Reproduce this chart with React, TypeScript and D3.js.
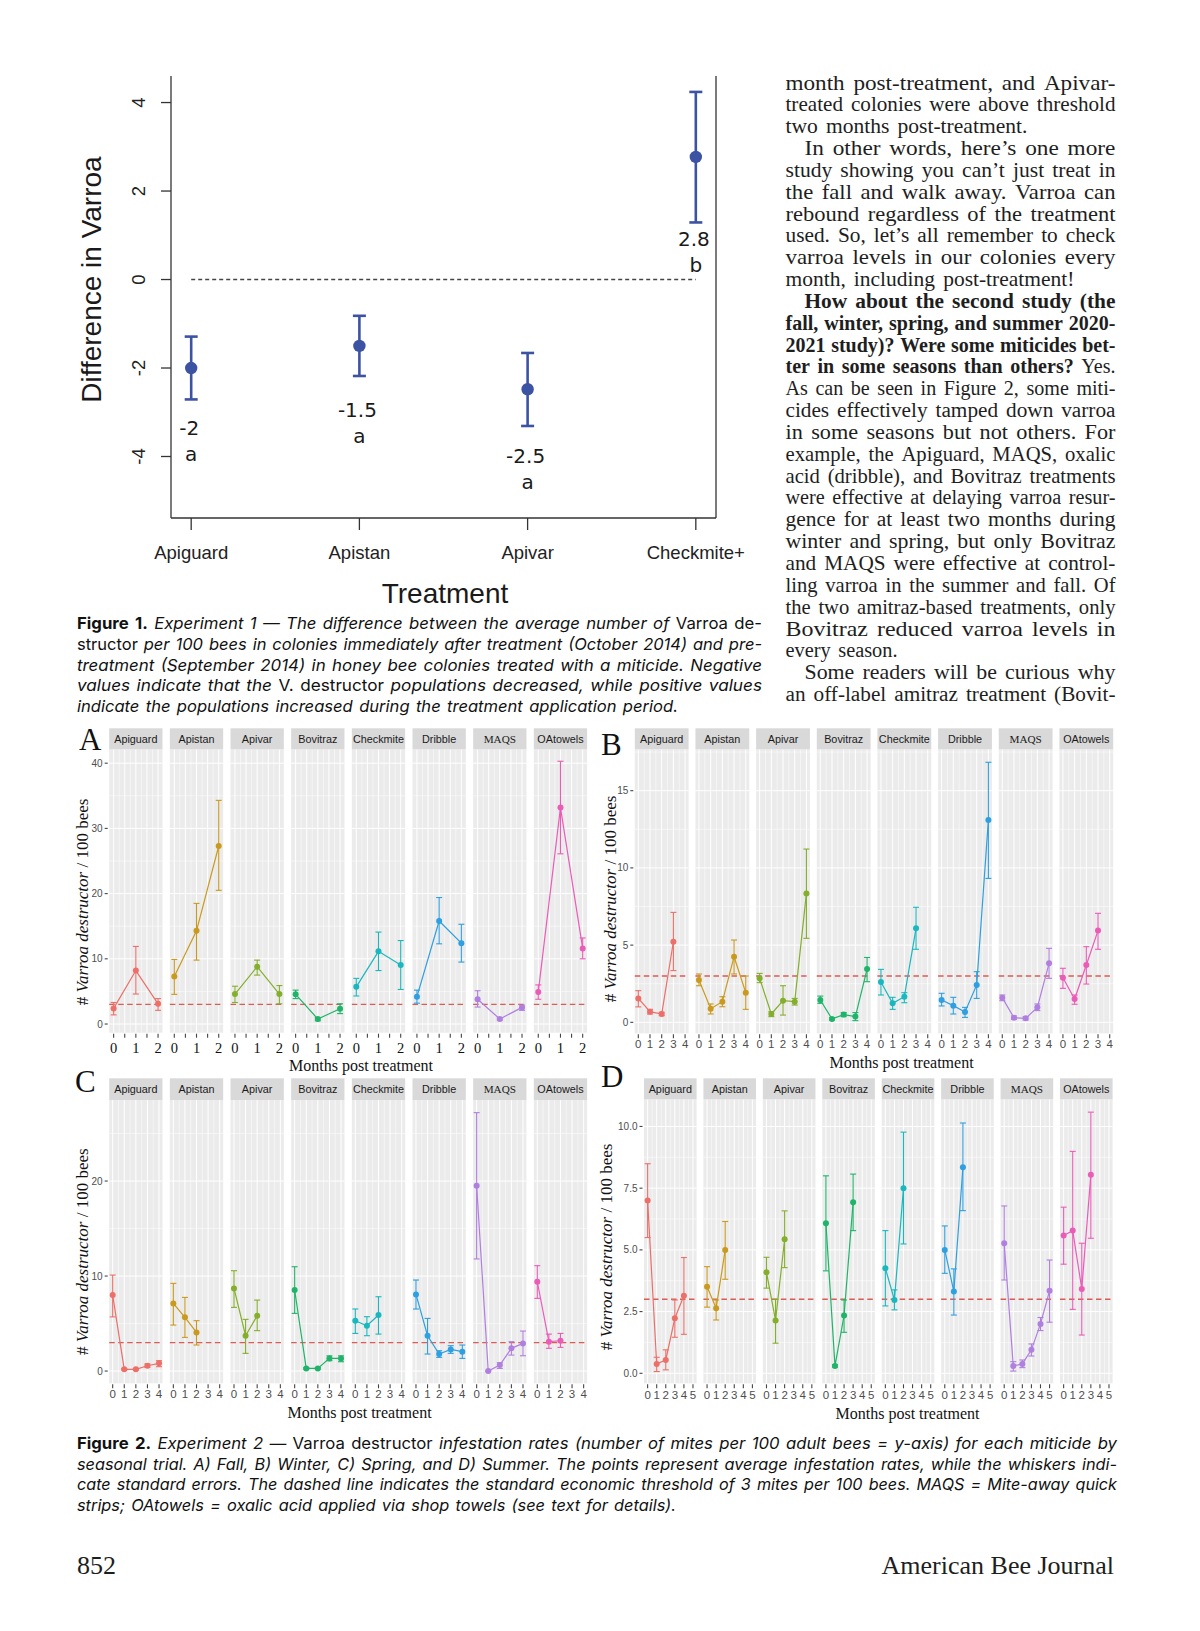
import React from 'react';
import * as d3 from 'd3';

// ---------------- Figure 1 data ----------------
const fig1Treatments = ['Apiguard', 'Apistan', 'Apivar', 'Checkmite+'];
const fig1Means = [-2.0, -1.5, -2.48, 2.77];
const fig1Lower = [-2.71, -2.18, -3.31, 1.29];
const fig1Upper = [-1.29, -0.82, -1.66, 4.24];
const fig1ValueLabels = ['-2', '-1.5', '-2.5', '2.8'];
const fig1GroupLabels = ['a', 'a', 'a', 'b'];
const fig1LabelAt = [-3.52, -3.11, -4.14, 0.75];
const fig1YTicks = [-4, -2, 0, 2, 4];

// ---------------- Figure 2 data ----------------
const treatments = ['Apiguard', 'Apistan', 'Apivar', 'Bovitraz', 'Checkmite', 'Dribble', 'MAQS', 'OAtowels'];
const treatmentColors = ['#EC6F69', '#C99A1E', '#84AE2C', '#20B46A', '#19B8BF', '#2E9FE0', '#B07FDF', '#EA5CB8'];
const threshold = 3;

// A) Fall: months 0..2
const fallMean = [[2.4, 8.2, 3.1], [7.3, 14.3, 27.3], [4.6, 8.8, 4.6], [4.55, 0.77, 2.35], [5.7, 11.15, 9.05], [4.2, 15.8, 12.4], [3.8, 0.77, 2.55], [4.9, 33.2, 11.6]];
const fallLow = [[1.4, 4.6, 2.1], [4.55, 9.8, 20.5], [3.3, 7.5, 3.1], [3.9, 0.5, 1.6], [4.3, 8.2, 5.3], [3.2, 12.3, 9.5], [2.6, 0.6, 2.1], [3.8, 26.1, 10.0]];
const fallHigh = [[3.3, 11.9, 3.9], [9.9, 18.5, 34.3], [5.8, 9.8, 5.9], [5.2, 1.0, 3.1], [7.0, 14.1, 12.8], [5.2, 19.4, 15.3], [5.1, 0.97, 2.9], [6.0, 40.3, 13.2]];

// B) Winter: months 0..4
const winterMean = [[1.55, 0.69, 0.54, 5.22], [2.74, 0.88, 1.34, 4.25, 1.92], [2.85, 0.54, 1.4, 1.34, 8.35], [1.45, 0.22, 0.5, 0.37, 3.45], [2.61, 1.23, 1.66, 6.09], [1.45, 1.08, 0.67, 2.42, 13.1], [1.6, 0.3, 0.26, 0.97, 3.82], [2.89, 1.51, 3.71, 5.94]];
const winterLow = [[1.0, 0.54, 0.43, 3.35], [2.37, 0.54, 1.01, 3.13, 0.84], [2.57, 0.37, 0.47, 1.12, 5.44], [1.23, 0.15, 0.37, 0.11, 2.63], [1.77, 0.84, 1.27, 4.73], [1.06, 0.54, 0.32, 1.55, 9.32], [1.4, 0.19, 0.15, 0.76, 2.85], [2.2, 1.17, 2.48, 4.73]];
const winterHigh = [[2.05, 0.84, 0.65, 7.12], [3.13, 1.19, 1.66, 5.33, 3.0], [3.17, 0.69, 2.37, 1.55, 11.22], [1.7, 0.3, 0.63, 0.63, 4.2], [3.43, 1.62, 1.92, 7.45], [1.88, 1.62, 0.97, 3.28, 16.84], [1.77, 0.41, 0.37, 1.19, 4.79], [3.5, 1.77, 4.9, 7.06]];

// C) Spring: months 0..4
const springMean = [[8.0, 0.18, 0.18, 0.56, 0.81], [7.12, 5.65, 4.07], [8.7, 3.72, 5.82], [8.53, 0.28, 0.28, 1.33, 1.33], [5.3, 4.77, 5.9], [8.07, 3.72, 1.79, 2.28, 2.04], [19.5, 0.0, 0.63, 2.39, 2.91], [9.4, 3.09, 3.19]];
const springLow = [[5.7, 0.1, 0.1, 0.39, 0.46], [4.84, 3.54, 2.74], [6.7, 1.86, 4.25], [6.07, 0.2, 0.2, 1.09, 0.98], [3.96, 3.72, 3.89], [6.53, 1.79, 1.44, 1.86, 1.33], [11.8, 0.0, 0.28, 1.68, 1.61], [7.65, 2.39, 2.49]];
const springHigh = [[10.1, 0.26, 0.26, 0.74, 1.09], [9.23, 7.75, 5.3], [10.56, 5.44, 7.47], [10.98, 0.36, 0.36, 1.6, 1.6], [6.53, 5.72, 7.82], [9.58, 5.54, 2.14, 2.67, 2.74], [27.2, 0.0, 0.88, 3.09, 4.21], [11.09, 3.89, 3.96]];

// D) Summer: months 0..5
const summerMean = [[7.0, 0.38, 0.54, 2.23, 3.14], [3.51, 2.64, 5.0], [4.09, 2.14, 5.43], [6.08, 0.3, 2.34, 6.93], [4.26, 2.97, 7.5], [5.0, 3.31, 8.35], [5.27, 0.3, 0.38, 0.95, 2.0, 3.34], [5.58, 5.78, 3.42, 8.04]];
const summerLow = [[5.5, 0.07, 0.14, 1.46, 1.58], [2.68, 2.16, 3.81], [3.45, 1.22, 4.28], [4.15, 0.25, 1.66, 5.78], [2.73, 2.57, 5.24], [4.05, 2.36, 6.59], [3.78, 0.09, 0.23, 0.7, 1.73, 2.07], [4.42, 2.59, 1.55, 5.47]];
const summerHigh = [[8.49, 0.65, 0.95, 2.97, 4.69], [4.32, 2.97, 6.15], [4.7, 3.0, 6.58], [8.0, 0.35, 2.97, 8.07], [5.78, 3.38, 9.77], [5.97, 4.23, 10.14], [6.78, 0.47, 0.54, 1.19, 2.26, 4.59], [6.73, 8.99, 5.27, 10.58]];

const fallYTicks = [0, 10, 20, 30, 40];
const winterYTicks = [0, 5, 10, 15];
const springYTicks = [0, 10, 20];
const summerYTicks = [0, 2.5, 5, 7.5, 10];
const fallMonths = [0, 1, 2];
const winterMonths = [0, 1, 2, 3, 4];
const springMonths = [0, 1, 2, 3, 4];
const summerMonths = [0, 1, 2, 3, 4, 5];

// ---------------- Text ----------------
const fig1Caption = [
  '*Figure 1.* _Experiment 1 — The difference between the average number of_ Varroa de-',
  'structor _per 100 bees in colonies immediately after treatment (October 2014) and pre-_',
  '_treatment (September 2014) in honey bee colonies treated with a miticide. Negative_',
  '_values indicate that the_ V. destructor _populations decreased, while positive values_',
  '_indicate the populations increased during the treatment application period._',
];
const fig2Caption = [
  '*Figure 2.* _Experiment 2 —_ Varroa destructor _infestation rates (number of mites per 100 adult bees = y-axis) for each miticide by_',
  '_seasonal trial. A) Fall, B) Winter, C) Spring, and D) Summer. The points represent average infestation rates, while the whiskers indi-_',
  '_cate standard errors. The dashed line indicates the standard economic threshold of 3 mites per 100 bees. MAQS = Mite-away quick_',
  '_strips; OAtowels = oxalic acid applied via shop towels (see text for details)._',
];
const columnText = [
  'month post-treatment, and Apivar-',
  'treated colonies were above threshold',
  'two months post-treatment.',
  'In other words, here’s one more',
  'study showing you can’t just treat in',
  'the fall and walk away. Varroa can',
  'rebound regardless of the treatment',
  'used. So, let’s all remember to check',
  'varroa levels in our colonies every',
  'month, including post-treatment!',
  '*How about the second study (the*',
  '*fall, winter, spring, and summer 2020-*',
  '*2021 study)? Were some miticides bet-*',
  '*ter in some seasons than others?* Yes.',
  'As can be seen in Figure 2, some miti-',
  'cides effectively tamped down varroa',
  'in some seasons but not others. For',
  'example, the Apiguard, MAQS, oxalic',
  'acid (dribble), and Bovitraz treatments',
  'were effective at delaying varroa resur-',
  'gence for at least two months during',
  'winter and spring, but only Bovitraz',
  'and MAQS were effective at control-',
  'ling varroa in the summer and fall. Of',
  'the two amitraz-based treatments, only',
  'Bovitraz reduced varroa levels in',
  'every season.',
  'Some readers will be curious why',
  'an off-label amitraz treatment (Bovit-',
];
const columnIndented = [3, 10, 27];
const columnLastLines: Record<number, number> = { 2: 242, 9: 289, 26: 112 };

const FONT_SANS = "'Liberation Sans', Arial, sans-serif";
const FONT_SERIF = "'Liberation Serif', 'Times New Roman', serif";
const FONT_CAP = "Inter, Roboto, 'Noto Sans', sans-serif";

// ---------------- text helpers ----------------
let _ctx: CanvasRenderingContext2D | null = null;
function tw(text: string, font: string) {
  if (!_ctx) _ctx = document.createElement('canvas').getContext('2d');
  _ctx!.font = font;
  return _ctx!.measureText(text).width;
}
type Piece = { t: string; b: boolean; i: boolean };
function parseLine(s: string): Piece[][] {
  const words: Piece[][] = [];
  let cur: Piece[] = [];
  let b = false, it = false, buf = '';
  const flush = () => { if (buf) { cur.push({ t: buf, b, i: it }); buf = ''; } };
  for (const ch of s) {
    if (ch === '*') { flush(); b = !b; }
    else if (ch === '_') { flush(); it = !it; }
    else if (ch === ' ') { flush(); if (cur.length) words.push(cur); cur = []; }
    else buf += ch;
  }
  flush();
  if (cur.length) words.push(cur);
  return words;
}

function JLine({ text, x, y, width, size, family, fill, maxGap = 0.9 }: any) {
  const words = parseLine(text);
  const fontOf = (p: Piece) => `${p.i ? 'italic ' : ''}${p.b ? 'bold ' : ''}${size}px ${family}`;
  const widths = words.map((w) => w.reduce((a, p) => a + tw(p.t, fontOf(p)), 0));
  const space = tw(' ', `${size}px ${family}`);
  const n = words.length - 1;
  const sum = widths.reduce((a, b) => a + b, 0);
  const natural = sum + n * space;
  let gap = space, k = 1;
  if (natural > width) k = width / natural;
  else if (n > 0) {
    const extra = width - natural;
    const maxExtra = n * space * maxGap;
    if (extra <= maxExtra) gap = space + extra / n;
    else { gap = space * (1 + maxGap); k = width / (sum + n * gap); }
  } else k = width / natural;
  let cx = 0;
  return (
    <g transform={`translate(${x},${y}) scale(${k},1)`}>
      {words.map((w, wi) => {
        const el = (
          <text key={wi} x={cx} y={0} fontSize={size} fontFamily={family} fill={fill}>
            {w.map((p, pi) => (
              <tspan key={pi} fontStyle={p.i ? 'italic' : 'normal'} fontWeight={p.b ? 'bold' : 'normal'}>{p.t}</tspan>
            ))}
          </text>
        );
        cx += widths[wi] + gap;
        return el;
      })}
    </g>
  );
}

// ---------------- Figure 1 ----------------
function Figure1() {
  const x = d3.scalePoint<string>().domain(fig1Treatments).range([171, 716]).padding(0.12);
  const y = d3.scaleLinear().domain([-5.39, 4.6]).range([518, 76]);
  const blue = '#3c52a3';
  return (
    <g>
      <line x1={171} x2={171} y1={76} y2={518} stroke="#333" strokeWidth={1.3} />
      <line x1={716} x2={716} y1={76} y2={518} stroke="#333" strokeWidth={1.3} />
      <line x1={171} x2={716} y1={518} y2={518} stroke="#333" strokeWidth={1.3} />
      {fig1YTicks.map((v) => (
        <g key={v}>
          <line x1={161} x2={171} y1={y(v)} y2={y(v)} stroke="#333" strokeWidth={1.3} />
          <text transform={`translate(145,${y(v)}) rotate(-90)`} textAnchor="middle" fontSize={18.5} fontFamily={FONT_SANS} fill="#222">{v}</text>
        </g>
      ))}
      <text transform="translate(101,279.6) rotate(-90)" textAnchor="middle" fontSize={28} fontFamily={FONT_SANS} fill="#1a1a1a">Difference in Varroa</text>
      {fig1Treatments.map((t) => (
        <g key={t}>
          <line x1={x(t)!} x2={x(t)!} y1={518} y2={530} stroke="#333" strokeWidth={1.3} />
          <text x={x(t)!} y={559} textAnchor="middle" fontSize={18.5} fontFamily={FONT_SANS} fill="#222">{t}</text>
        </g>
      ))}
      <text x={445} y={603} textAnchor="middle" fontSize={28} fontFamily={FONT_SANS} fill="#1a1a1a">Treatment</text>
      <line x1={x(fig1Treatments[0])!} x2={x(fig1Treatments[3])!} y1={y(0)} y2={y(0)} stroke="#444" strokeWidth={1.3} strokeDasharray="4 3" />
      {fig1Treatments.map((t, i) => {
        const cx = x(t)!;
        return (
          <g key={t}>
            <line x1={cx} x2={cx} y1={y(fig1Lower[i])} y2={y(fig1Upper[i])} stroke={blue} strokeWidth={2.6} />
            <line x1={cx - 6.5} x2={cx + 6.5} y1={y(fig1Lower[i])} y2={y(fig1Lower[i])} stroke={blue} strokeWidth={2.6} />
            <line x1={cx - 6.5} x2={cx + 6.5} y1={y(fig1Upper[i])} y2={y(fig1Upper[i])} stroke={blue} strokeWidth={2.6} />
            <circle cx={cx} cy={y(fig1Means[i])} r={6.2} fill={blue} />
            <text x={cx - 2} y={y(fig1LabelAt[i])} textAnchor="middle" fontSize={20} fontFamily="'DejaVu Sans', sans-serif" fill="#1a1a1a">{fig1ValueLabels[i]}</text>
            <text x={cx} y={y(fig1LabelAt[i]) + 26} textAnchor="middle" fontSize={20} fontFamily="'DejaVu Sans', sans-serif" fill="#1a1a1a">{fig1GroupLabels[i]}</text>
          </g>
        );
      })}
    </g>
  );
}

// ---------------- Figure 2 facets ----------------
const panelCfgs = [
  { letter: 'A', letterX: 79, letterY: 750, left: 109.2, pitch: 60.66, w: 53.3, stripTop: 728.3, stripH: 21, plotBottom: 1032.7, yDomain: [-1.33, 42.13], xDomain: [-0.2, 2.2], yMinor: [5, 15, 25, 35], yFormat: 'd', xMajor: [0, 0.5, 1, 1.5, 2], xMinor: [0.25, 0.75, 1.25, 1.75], xTickAt: [0, 0.5, 1, 1.5, 2], serifX: true, xLabelY: 1052.7, yTitleX: 88, yTitleY: 902, xTitleX: 361, xTitleY: 1071 },
  { letter: 'B', letterX: 601, letterY: 755, left: 634.8, pitch: 60.66, w: 53.8, stripTop: 728.3, stripH: 21, plotBottom: 1033.3, yDomain: [-0.71, 17.68], xDomain: [-0.3, 4.3], yMinor: [2.5, 7.5, 12.5, 17.5], yFormat: 'd', xMajor: [0, 1, 2, 3, 4], xMinor: [0.5, 1.5, 2.5, 3.5], xTickAt: [0, 1, 2, 3, 4], serifX: false, xLabelY: 1048.3, yTitleX: 615.5, yTitleY: 899, xTitleX: 901.6, xTitleY: 1067.5 },
  { letter: 'C', letterX: 75, letterY: 1091.7, left: 109.2, pitch: 60.66, w: 53.3, stripTop: 1078.3, stripH: 21.7, plotBottom: 1383.3, yDomain: [-1.29, 28.53], xDomain: [-0.3, 4.3], yMinor: [5, 15, 25], yFormat: 'd', xMajor: [0, 1, 2, 3, 4], xMinor: [0.5, 1.5, 2.5, 3.5], xTickAt: [0, 1, 2, 3, 4], serifX: false, xLabelY: 1398.3, yTitleX: 88, yTitleY: 1251.7, xTitleX: 359.6, xTitleY: 1418 },
  { letter: 'D', letterX: 601, letterY: 1086.7, left: 644, pitch: 59.43, w: 52.6, stripTop: 1078.3, stripH: 21, plotBottom: 1383.3, yDomain: [-0.405, 11.1], xDomain: [-0.4, 5.4], yMinor: [1.25, 3.75, 6.25, 8.75], yFormat: '.1f', xMajor: [0, 1, 2, 3, 4, 5], xMinor: [0.5, 1.5, 2.5, 3.5, 4.5], xTickAt: [0, 1, 2, 3, 4, 5], serifX: false, xLabelY: 1399.3, yTitleX: 612, yTitleY: 1247, xTitleX: 907.5, xTitleY: 1419 },
];

function Facet({ cfg, mean, low, high, yTicks, months }: any) {
  const plotTop = cfg.stripTop + cfg.stripH;
  const y = d3.scaleLinear().domain(cfg.yDomain).range([cfg.plotBottom, plotTop]);
  const yFmt = d3.format(cfg.yFormat);
  const L0 = cfg.left;
  return (
    <g>
      <text x={cfg.letterX} y={cfg.letterY} fontSize={31} fontFamily={FONT_SERIF} fill="#111">{cfg.letter}</text>
      {yTicks.map((v: number) => (
        <g key={v}>
          <line x1={L0 - 4.5} x2={L0 - 1.5} y1={y(v)} y2={y(v)} stroke="#444" strokeWidth={1.1} />
          <text x={L0 - 6.5} y={y(v)} dy="0.35em" textAnchor="end" fontSize={10} fill="#4d4d4d" fontFamily={FONT_SANS}>{yFmt(v)}</text>
        </g>
      ))}
      <text transform={`translate(${cfg.yTitleX},${cfg.yTitleY}) rotate(-90)`} textAnchor="middle" fontSize={17} fontFamily={FONT_SERIF} fill="#111">
        # <tspan fontStyle="italic">Varroa destructor</tspan> / 100 bees
      </text>
      <text x={cfg.xTitleX} y={cfg.xTitleY} textAnchor="middle" fontSize={16} fontFamily={FONT_SERIF} fill="#111">Months post treatment</text>
      {treatments.map((t, i) => {
        const L = L0 + i * cfg.pitch;
        const x = d3.scaleLinear().domain(cfg.xDomain).range([L, L + cfg.w]);
        const m: number[] = mean[i];
        const lo: number[] = low[i];
        const hi: number[] = high[i];
        const color = treatmentColors[i];
        const line = d3.line<number>().x((_, k) => x(months[k])).y((v) => y(v));
        return (
          <g key={t}>
            <rect x={L} y={plotTop} width={cfg.w} height={cfg.plotBottom - plotTop} fill="#ebebeb" />
            {cfg.yMinor.map((v: number) => (
              <line key={'ym' + v} x1={L} x2={L + cfg.w} y1={y(v)} y2={y(v)} stroke="#fff" strokeWidth={0.5} />
            ))}
            {cfg.xMinor.map((v: number) => (
              <line key={'xm' + v} x1={x(v)} x2={x(v)} y1={plotTop} y2={cfg.plotBottom} stroke="#fff" strokeWidth={0.5} />
            ))}
            {yTicks.map((v: number) => (
              <line key={'yM' + v} x1={L} x2={L + cfg.w} y1={y(v)} y2={y(v)} stroke="#fff" strokeWidth={1} />
            ))}
            {cfg.xMajor.map((v: number) => (
              <line key={'xM' + v} x1={x(v)} x2={x(v)} y1={plotTop} y2={cfg.plotBottom} stroke="#fff" strokeWidth={1} />
            ))}
            <rect x={L} y={cfg.stripTop} width={cfg.w} height={cfg.stripH} fill="#d9d9d9" />
            <text x={L + cfg.w / 2} y={cfg.stripTop + cfg.stripH / 2 + 3.8} textAnchor="middle" fontSize={t === 'MAQS' ? 11.2 : 10.8}
              fontFamily={t === 'MAQS' ? FONT_SERIF : FONT_SANS} fill="#1a1a1a">{t}</text>
            <line x1={L} x2={L + cfg.w} y1={y(threshold)} y2={y(threshold)} stroke="#dd5b55" strokeWidth={1.3} strokeDasharray="5.5 3.5" />
            <path d={line(m) || ''} fill="none" stroke={color} strokeWidth={1.2} />
            {m.map((v, k) => (
              <g key={k}>
                <line x1={x(months[k])} x2={x(months[k])} y1={y(lo[k])} y2={y(hi[k])} stroke={color} strokeWidth={1.1} />
                <line x1={x(months[k]) - 3} x2={x(months[k]) + 3} y1={y(lo[k])} y2={y(lo[k])} stroke={color} strokeWidth={1.1} />
                <line x1={x(months[k]) - 3} x2={x(months[k]) + 3} y1={y(hi[k])} y2={y(hi[k])} stroke={color} strokeWidth={1.1} />
                <circle cx={x(months[k])} cy={y(v)} r={3} fill={color} />
              </g>
            ))}
            {cfg.xTickAt.map((v: number) => (
              <line key={'xt' + v} x1={x(v)} x2={x(v)} y1={cfg.plotBottom + 1} y2={cfg.plotBottom + 5} stroke="#444" strokeWidth={1.1} />
            ))}
            {months.map((v: number) => (
              <text key={'xl' + v} x={x(v)} y={cfg.xLabelY} textAnchor="middle"
                fontSize={cfg.serifX ? 14.5 : 11.5} fontFamily={cfg.serifX ? FONT_SERIF : FONT_SANS}
                fill={cfg.serifX ? '#111' : '#4d4d4d'}>{v}</text>
            ))}
          </g>
        );
      })}
    </g>
  );
}

export default function App() {
  return (
    <svg width={1200} height={1631} viewBox="0 0 1200 1631" style={{ position: 'absolute', left: 0, top: 0, background: '#fff' }}>
      <rect x={0} y={0} width={1200} height={1631} fill="#fff" />
      <Figure1 />
      {fig1Caption.map((s, i) => (
        <JLine key={'c1' + i} text={s} x={77} y={629 + i * 20.8} width={i === 4 ? 601 : 685} size={16.5} family={FONT_CAP} fill="#111" maxGap={0.35} />
      ))}
      {columnText.map((s, i) => {
        const indent = columnIndented.includes(i) ? 19 : 0;
        const width = columnLastLines[i] !== undefined ? columnLastLines[i] : 330 - indent;
        return <JLine key={'col' + i} text={s} x={785.5 + indent} y={89.5 + i * 21.84} width={width} size={20} family={FONT_SERIF} fill="#1e1e1e" maxGap={0.5} />;
      })}
      <Facet cfg={panelCfgs[0]} mean={fallMean} low={fallLow} high={fallHigh} yTicks={fallYTicks} months={fallMonths} />
      <Facet cfg={panelCfgs[1]} mean={winterMean} low={winterLow} high={winterHigh} yTicks={winterYTicks} months={winterMonths} />
      <Facet cfg={panelCfgs[2]} mean={springMean} low={springLow} high={springHigh} yTicks={springYTicks} months={springMonths} />
      <Facet cfg={panelCfgs[3]} mean={summerMean} low={summerLow} high={summerHigh} yTicks={summerYTicks} months={summerMonths} />
      {fig2Caption.map((s, i) => (
        <JLine key={'c2' + i} text={s} x={77} y={1449 + i * 20.5} width={i === 3 ? 599 : 1040} size={16} family={FONT_CAP} fill="#111" maxGap={0.35} />
      ))}
      <text x={77} y={1574} fontSize={26} fontFamily={FONT_SERIF} fill="#1e1e1e">852</text>
      <text x={1114} y={1574} textAnchor="end" fontSize={26} fontFamily={FONT_SERIF} fill="#1e1e1e">American Bee Journal</text>
    </svg>
  );
}
